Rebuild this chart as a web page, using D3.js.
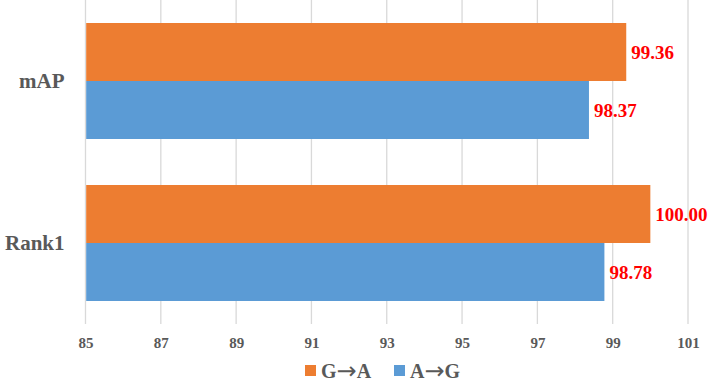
<!DOCTYPE html>
<html>
<head>
<meta charset="utf-8">
<script src="https://cdn.jsdelivr.net/npm/d3@7"></script>
<style>
  body { margin: 0; background: #fff; }
  text { font-family: "Liberation Serif", "Times New Roman", serif; font-weight: bold; }
</style>
</head>
<body>
<script>
// chart values
const categories = ["mAP", "Rank1"];
const seriesNames = ["G→A", "A→G"];
const gaValues = [99.36, 100.00];
const agValues = [98.37, 98.78];
const xTicks = [85, 87, 89, 91, 93, 95, 97, 99, 101];
const colors = ["#ED7D31", "#5B9BD5"];

const W = 710, H = 388;
const margin = { top: 0, right: 22, bottom: 64, left: 85.5 };
const width = W - margin.left - margin.right,
      height = H - margin.top - margin.bottom;

const svg = d3.select("body").append("svg")
    .attr("width", W)
    .attr("height", H);

const g = svg.append("g")
    .attr("transform", `translate(${margin.left},${margin.top})`);

const x = d3.scaleLinear().domain([85, 101]).range([0, width]);
const y = d3.scaleBand().domain(categories).range([0, height])
    .paddingInner(0.284).paddingOuter(0.142);
const ySub = d3.scaleBand().domain(seriesNames).range([0, y.bandwidth()]);

// grid lines
g.append("g")
  .selectAll("line")
  .data(xTicks)
  .join("line")
    .attr("x1", d => x(d)).attr("x2", d => x(d))
    .attr("y1", 0).attr("y2", height)
    .attr("stroke", "#d9d9d9")
    .attr("stroke-width", 1.3);

// x axis labels
const xAxis = g.append("g")
    .attr("transform", `translate(0,${height})`)
    .call(d3.axisBottom(x).tickValues(xTicks).tickSize(0).tickPadding(13).tickFormat(d3.format("d")));
xAxis.select(".domain").remove();
xAxis.selectAll("text")
    .attr("fill", "#595959")
    .style("font-size", "15px");

// category labels
const yAxis = g.append("g")
    .call(d3.axisLeft(y).tickSize(0).tickPadding(21));
yAxis.select(".domain").remove();
yAxis.selectAll("text")
    .attr("fill", "#595959")
    .style("font-size", "21px");

const rows = categories.map((c, i) => ({
  cat: c,
  vals: [
    { name: seriesNames[0], v: gaValues[i], color: colors[0] },
    { name: seriesNames[1], v: agValues[i], color: colors[1] }
  ]
}));

const groups = g.selectAll(".grp")
  .data(rows)
  .join("g")
    .attr("class", "grp")
    .attr("transform", d => `translate(0,${y(d.cat)})`);

groups.selectAll("rect")
  .data(d => d.vals)
  .join("rect")
    .attr("x", x(85) + 0.7)
    .attr("y", d => ySub(d.name))
    .attr("width", d => x(d.v) - x(85) - 0.7)
    .attr("height", ySub.bandwidth())
    .attr("fill", d => d.color);

groups.selectAll(".lbl")
  .data(d => d.vals)
  .join("text")
    .attr("class", "lbl")
    .attr("x", d => x(d.v) + 5)
    .attr("y", d => ySub(d.name) + ySub.bandwidth() / 2)
    .attr("dy", "0.35em")
    .attr("fill", "#FF0000")
    .style("font-size", "19px")
    .text(d => d.v.toFixed(2));

// legend
const legendX = [305, 394];
const legend = svg.append("g").selectAll("g")
  .data(seriesNames)
  .join("g")
    .attr("transform", (d, i) => `translate(${legendX[i]},365)`);
legend.append("rect")
    .attr("width", 11).attr("height", 11)
    .attr("fill", (d, i) => colors[i]);
const lt = legend.append("text")
    .attr("x", 16).attr("y", 12.5)
    .attr("fill", "#595959")
    .style("font-size", "20px");
lt.append("tspan").text(d => d.split("→")[0]);
lt.append("tspan")
    .style("font-family", "'DejaVu Sans', sans-serif")
    .style("font-weight", "normal")
    .style("font-size", "24px")
    .attr("dy", 1)
    .text("→");
lt.append("tspan").attr("dy", -1).text(d => d.split("→")[1]);
</script>
</body>
</html>
